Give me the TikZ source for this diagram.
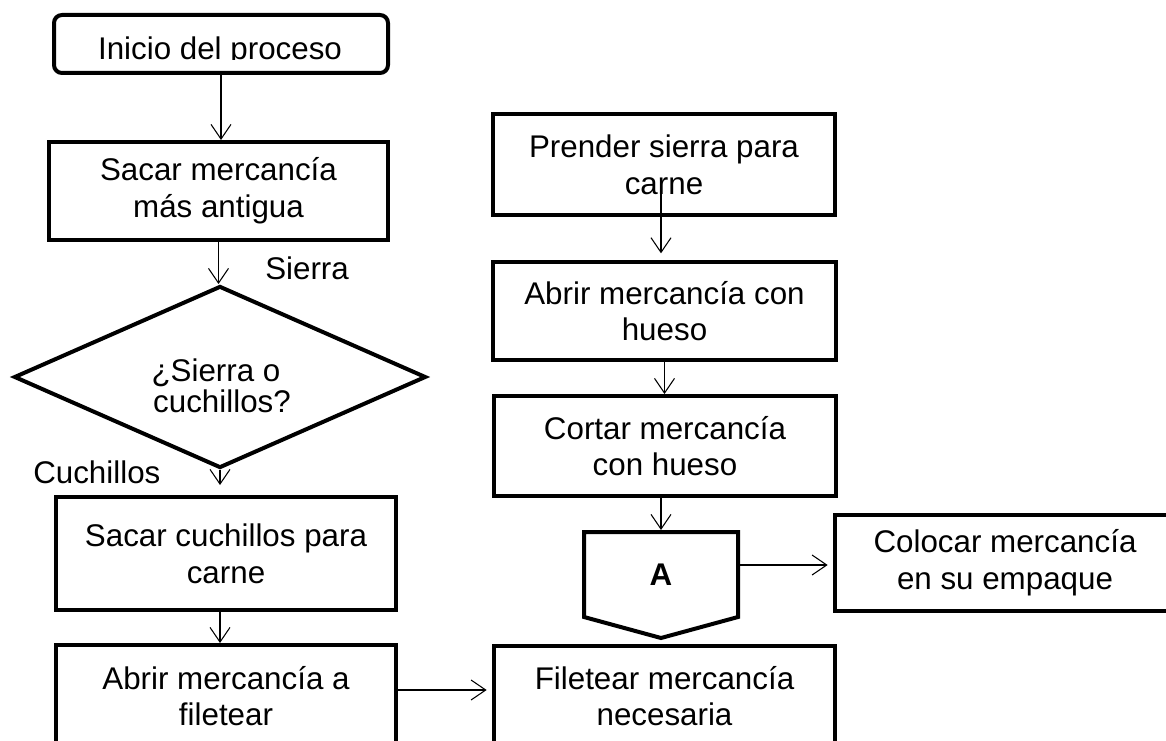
\documentclass[tikz,border=0pt]{standalone}
\usepackage{fontspec}
\setmainfont{Liberation Sans}
\usetikzlibrary{arrows.meta,shapes.geometric,calc}
\begin{document}
\begin{tikzpicture}[x=0.75pt,y=-0.75pt,
  box/.style={draw,line width=3pt,inner sep=0pt,align=center,font=\fontsize{23.5}{27.5}\selectfont},
  arr/.style={line width=0.8pt,-{Straight Barb[length=11pt,width=15pt,line width=0.8pt]}},
  lbl/.style={font=\fontsize{23.5}{27.5}\selectfont,inner sep=0pt}]
\useasboundingbox (0,0) rectangle (1166,741);
\clip (0,0) rectangle (1166,741);

% left column
\node[box,rounded corners=6pt,minimum width=250.5pt,minimum height=43.5pt] (inicio) at (221,44) {};
\begin{scope}
\clip (0,0) rectangle (1166,59.5);
\node[lbl,anchor=base] (iniciotxt) at (220,59.5) {Inicio del proceso};
\end{scope}
\node[box,minimum width=254.25pt,minimum height=73.5pt] (sacar) at (218.5,191) {Sacar mercancía\\más antigua};
\node[draw,diamond,line width=3pt,inner sep=0pt,aspect=2.26,minimum width=309pt,minimum height=136.5pt] (dia) at (220,377) {};
\node[lbl,anchor=base] (diat1) at (216,381) {¿Sierra o};
\node[lbl,anchor=base] (diat2) at (222,412) {cuchillos?};
\node[lbl,anchor=base west] (sierra) at (265,280) {Sierra};
\node[lbl,anchor=base west] (cuchl) at (33,483) {Cuchillos};
\node[box,minimum width=255pt,minimum height=84.75pt] (cuch) at (226,553.5) {Sacar cuchillos para\\carne};
\node[box,minimum width=255pt,minimum height=76.5pt] (abrirA) at (226,696) {Abrir mercancía a\\filetear};

% right column
\node[box,minimum width=256.5pt,minimum height=75.75pt] (prender) at (664,165) {Prender sierra para\\carne};
\node[box,minimum width=257.25pt,minimum height=73.5pt] (abrirH) at (664.5,311) {Abrir mercancía con\\hueso};
\node[box,minimum width=256.5pt,minimum height=75pt] (cortar) at (665,446) {Cortar mercancía\\con hueso};
\node[minimum width=115.5pt,minimum height=63.75pt,inner sep=0pt,outer sep=0pt,font=\fontsize{23.5}{27.5}\selectfont\bfseries] (conA) at (661,574.5) {A};
\draw[line width=3pt] (conA.north west) -- (conA.north east) -- (conA.south east) -- ($(conA.south)+(0,21)$) -- (conA.south west) -- cycle;
\node[box,minimum width=255pt,minimum height=72pt] (colocar) at (1005,563) {Colocar mercancía\\en su empaque};
\node[box,minimum width=255.75pt,minimum height=75pt] (filet) at (664.5,696) {Filetear mercancía\\necesaria};

% connectors
\draw[arr] (inicio.south) -- (inicio.south |- sacar.north);
\draw[arr] (sacar.south) -- (sacar.south |- dia.north);
\draw[arr,shorten >=7.5pt] (dia.south) -- (dia.south |- cuch.north);
\draw[arr] (cuch.south -| dia.south) -- (abrirA.north -| dia.south);
\coordinate (aF) at ($(abrirA.east)+(0,-6)$);
\draw[arr,shorten >=4pt] (aF) -- (aF -| filet.west);
\coordinate (pS) at ($(prender.south)+(-3,-28)$);
\draw[arr,shorten >=5pt] (pS) -- (pS |- abrirH.north);
\draw[arr] (abrirH.south) -- (abrirH.south |- cortar.north);
\draw[arr,shorten >=1.5pt] (cortar.south -| conA.north) -- (conA.north);
\coordinate (aE) at ($(conA.east)+(0,-9.5)$);
\draw[arr,shorten >=4pt] (aE) -- (aE -| colocar.west);
\end{tikzpicture}
\end{document}
